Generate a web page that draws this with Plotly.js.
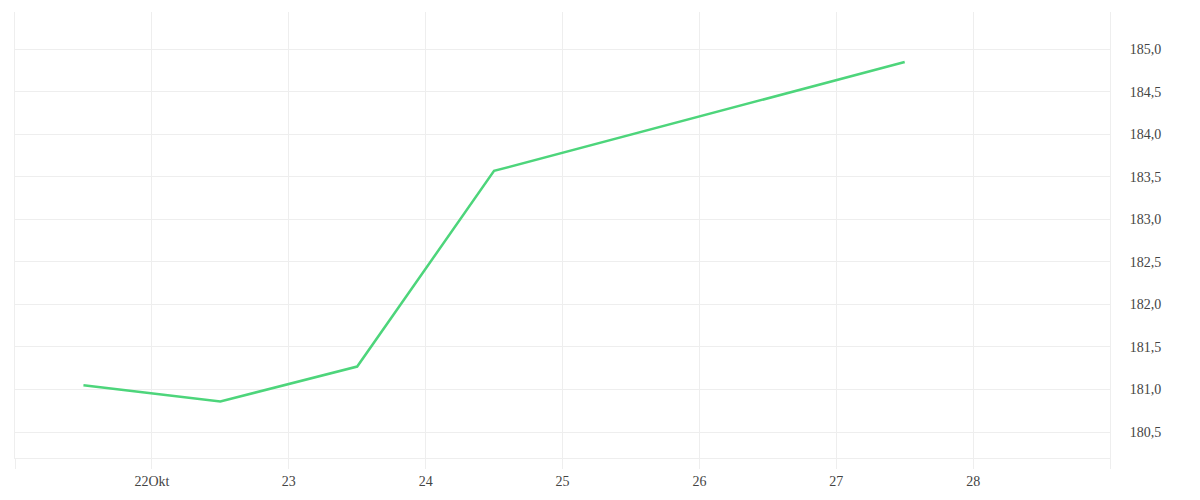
<!DOCTYPE html>
<html>
<head>
<meta charset="utf-8">
<script src="https://cdn.plot.ly/plotly-3.0.1.min.js"></script>
<style>html,body{margin:0;padding:0;background:#fff;}#chart{width:1200px;height:500px;}</style>
</head>
<body>
<div id="chart"></div>
<script>
var dates = ['2023-10-21 12:00', '2023-10-22 12:00', '2023-10-23 12:00', '2023-10-24 12:00', '2023-10-27 12:00'];
var values = [181.05, 180.86, 181.27, 183.57, 184.85];
var tickDates = ['2023-10-21', '2023-10-22', '2023-10-23', '2023-10-24', '2023-10-25', '2023-10-26', '2023-10-27', '2023-10-28', '2023-10-29'];
var tickLabels = ['', '22Okt', '23', '24', '25', '26', '27', '28', ''];
var yTicks = [180.5, 181.0, 181.5, 182.0, 182.5, 183.0, 183.5, 184.0, 184.5, 185.0];
var yLabels = ['180,5', '181,0', '181,5', '182,0', '182,5', '183,0', '183,5', '184,0', '184,5', '185,0'];

var trace = {
  x: dates, y: values, type: 'scatter', mode: 'lines',
  line: {color: '#4dd57b', width: 2.5},
  hoverinfo: 'skip'
};
var layout = {
  width: 1200, height: 500,
  margin: {l: 15, r: 90, t: 12, b: 42},
  paper_bgcolor: '#fff', plot_bgcolor: '#fff',
  showlegend: false,
  font: {family: '"Liberation Serif", serif', size: 14, color: '#444'},
  xaxis: {
    type: 'date',
    range: ['2023-10-21', '2023-10-29'],
    tickmode: 'array', tickvals: tickDates, ticktext: tickLabels,
    showgrid: true, gridcolor: '#eeeeee', gridwidth: 1,
    ticks: 'outside', ticklen: 10, tickcolor: '#eeeeee', tickwidth: 1,
    showline: true, linecolor: '#eeeeee', linewidth: 1,
    zeroline: false, fixedrange: true
  },
  yaxis: {
    side: 'right',
    range: [180.195, 185.438],
    tickmode: 'array', tickvals: yTicks, ticktext: yLabels,
    showgrid: true, gridcolor: '#eeeeee', gridwidth: 1,
    ticks: '', ticklabelstandoff: 16,
    showline: true, mirror: true, linecolor: '#eeeeee', linewidth: 1,
    zeroline: false, fixedrange: true
  }
};
Plotly.newPlot('chart', [trace], layout, {displayModeBar: false, staticPlot: true});
</script>
</body>
</html>
